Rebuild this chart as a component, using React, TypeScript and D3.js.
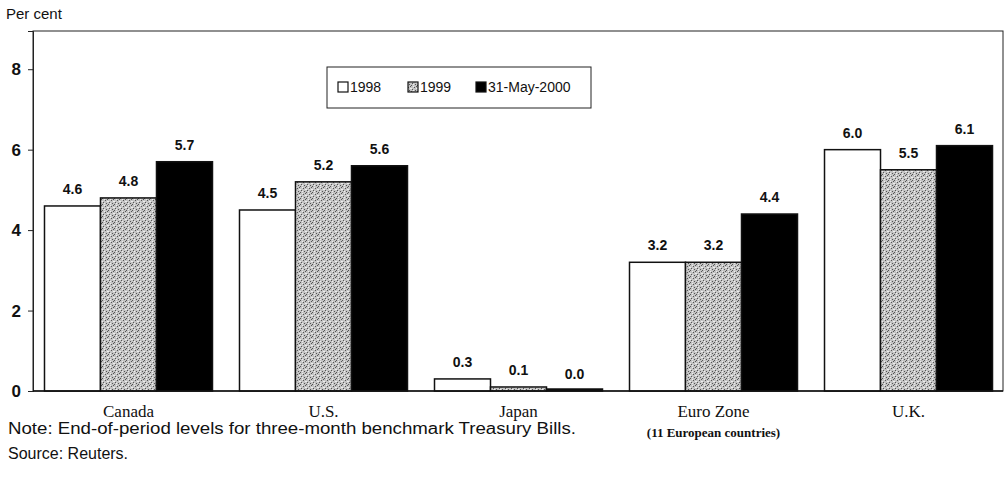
import React, { useEffect, useRef } from "react";
import * as d3 from "d3";

const categories = ["Canada", "U.S.", "Japan", "Euro Zone", "U.K."];
const seriesNames = ["1998", "1999", "31-May-2000"];
const values1998 = [4.6, 4.5, 0.3, 3.2, 6.0];
const values1999 = [4.8, 5.2, 0.1, 3.2, 5.5];
const valuesMay2000 = [5.7, 5.6, 0.0, 4.4, 6.1];
const yTicks = [0, 2, 4, 6, 8];

const App = () => {
  const svgRef = useRef<SVGSVGElement | null>(null);

  useEffect(() => {
    document.body.style.margin = "0";
    const width = 1008;
    const height = 489;
    const svg = d3.select(svgRef.current).attr("width", width).attr("height", height);
    svg.selectAll("*").remove();

    const left = 33;
    const right = 1003;
    const top = 31;
    const bottom = 391;

    // stippled grey fill for 1999
    const defs = svg.append("defs");
    const pat = defs
      .append("pattern")
      .attr("id", "stipple")
      .attr("patternUnits", "userSpaceOnUse")
      .attr("width", 6)
      .attr("height", 6);
    pat.append("rect").attr("width", 6).attr("height", 6).attr("fill", "#c4c4c4");
    [[0, 0], [3, 2], [1, 4], [4, 5], [5, 1]].forEach(([px, py]) =>
      pat.append("rect").attr("x", px).attr("y", py).attr("width", 1).attr("height", 1).attr("fill", "#555")
    );
    [[2, 1], [0, 3], [5, 3], [2, 5]].forEach(([px, py]) =>
      pat.append("rect").attr("x", px).attr("y", py).attr("width", 1).attr("height", 1).attr("fill", "#eee")
    );

    const fills = ["#ffffff", "url(#stipple)", "#000000"];
    const seriesValues = [values1998, values1999, valuesMay2000];

    // groups spaced ~195px apart, bars fill 168px of each
    const x0 = d3.scaleBand().domain(categories).range([31, 31 + 975]).paddingInner(0.1385).paddingOuter(0.0692);
    const x1 = d3.scaleBand().domain(seriesNames).range([0, x0.bandwidth()]);
    const y = d3.scaleLinear().domain([0, 8.95]).range([bottom, top]);

    // frame
    svg
      .append("rect")
      .attr("x", left)
      .attr("y", top)
      .attr("width", right - left)
      .attr("height", bottom - top)
      .attr("fill", "none")
      .attr("stroke", "#222")
      .attr("stroke-width", 1);

    // y axis
    const yAxis = svg
      .append("g")
      .attr("transform", `translate(${left},0)`)
      .call(d3.axisLeft(y).tickValues(yTicks).tickSize(5).tickFormat(d3.format("d")));
    yAxis.select(".domain").attr("stroke", "#222");
    yAxis.selectAll(".tick line").attr("stroke", "#222");
    yAxis
      .selectAll(".tick text")
      .attr("x", -12)
      .style("font-family", "Liberation Sans, Arial, sans-serif")
      .style("font-size", "17px")
      .style("font-weight", "bold")
      .attr("fill", "#111");

    svg
      .append("text")
      .attr("x", 6)
      .attr("y", 19)
      .style("font-family", "Liberation Sans, Arial, sans-serif")
      .style("font-size", "15px")
      .attr("fill", "#111")
      .text("Per cent");

    // bars
    categories.forEach((cat, ci) => {
      seriesNames.forEach((s, si) => {
        const v = seriesValues[si][ci];
        const bx = (x0(cat) as number) + (x1(s) as number);
        const bw = x1.bandwidth();
        const yTop = Math.min(y(v), bottom - 2);
        svg
          .append("rect")
          .attr("x", bx)
          .attr("y", yTop)
          .attr("width", bw)
          .attr("height", bottom - yTop)
          .attr("fill", fills[si])
          .attr("stroke", "#111")
          .attr("stroke-width", 1.5);
        svg
          .append("text")
          .attr("x", bx + bw / 2)
          .attr("y", y(v) - 12)
          .attr("text-anchor", "middle")
          .style("font-family", "Liberation Sans, Arial, sans-serif")
          .style("font-size", "14px")
          .style("font-weight", "bold")
          .attr("fill", "#111")
          .text(d3.format(".1f")(v));
      });
    });

    // baseline
    svg.append("line").attr("x1", left).attr("x2", right).attr("y1", bottom).attr("y2", bottom).attr("stroke", "#111").attr("stroke-width", 1.5);

    // category labels
    categories.forEach((cat) => {
      svg
        .append("text")
        .attr("x", (x0(cat) as number) + x0.bandwidth() / 2)
        .attr("y", 417)
        .attr("text-anchor", "middle")
        .style("font-family", "Liberation Serif, Times New Roman, serif")
        .style("font-size", "17px")
        .attr("fill", "#111")
        .text(cat);
    });
    svg
      .append("text")
      .attr("x", (x0("Euro Zone") as number) + x0.bandwidth() / 2)
      .attr("y", 437)
      .attr("text-anchor", "middle")
      .style("font-family", "Liberation Serif, Times New Roman, serif")
      .style("font-size", "13px")
      .style("font-weight", "bold")
      .attr("fill", "#111")
      .text("(11 European countries)");

    // legend
    const legend = svg.append("g").attr("transform", "translate(327,67)");
    legend.append("rect").attr("width", 264).attr("height", 41).attr("fill", "#fff").attr("stroke", "#222").attr("stroke-width", 1);
    const legendX = [11, 81, 149];
    seriesNames.forEach((s, i) => {
      legend
        .append("rect")
        .attr("x", legendX[i])
        .attr("y", 15)
        .attr("width", 10)
        .attr("height", 10)
        .attr("fill", fills[i])
        .attr("stroke", "#111")
        .attr("stroke-width", 1.2);
      legend
        .append("text")
        .attr("x", legendX[i] + 12)
        .attr("y", 25)
        .style("font-family", "Liberation Sans, Arial, sans-serif")
        .style("font-size", "14px")
        .attr("fill", "#111")
        .text(s);
    });

    // notes
    svg
      .append("text")
      .attr("x", 8)
      .attr("y", 434)
      .attr("textLength", 568)
      .attr("lengthAdjust", "spacingAndGlyphs")
      .style("font-family", "Liberation Sans, Arial, sans-serif")
      .style("font-size", "16px")
      .attr("fill", "#111")
      .text("Note: End-of-period levels for three-month benchmark Treasury Bills.");
    svg
      .append("text")
      .attr("x", 8)
      .attr("y", 459)
      .style("font-family", "Liberation Sans, Arial, sans-serif")
      .style("font-size", "16px")
      .attr("fill", "#111")
      .text("Source: Reuters.");
  }, []);

  return <svg ref={svgRef} style={{ display: "block", background: "#fff" }}></svg>;
};

export default App;
